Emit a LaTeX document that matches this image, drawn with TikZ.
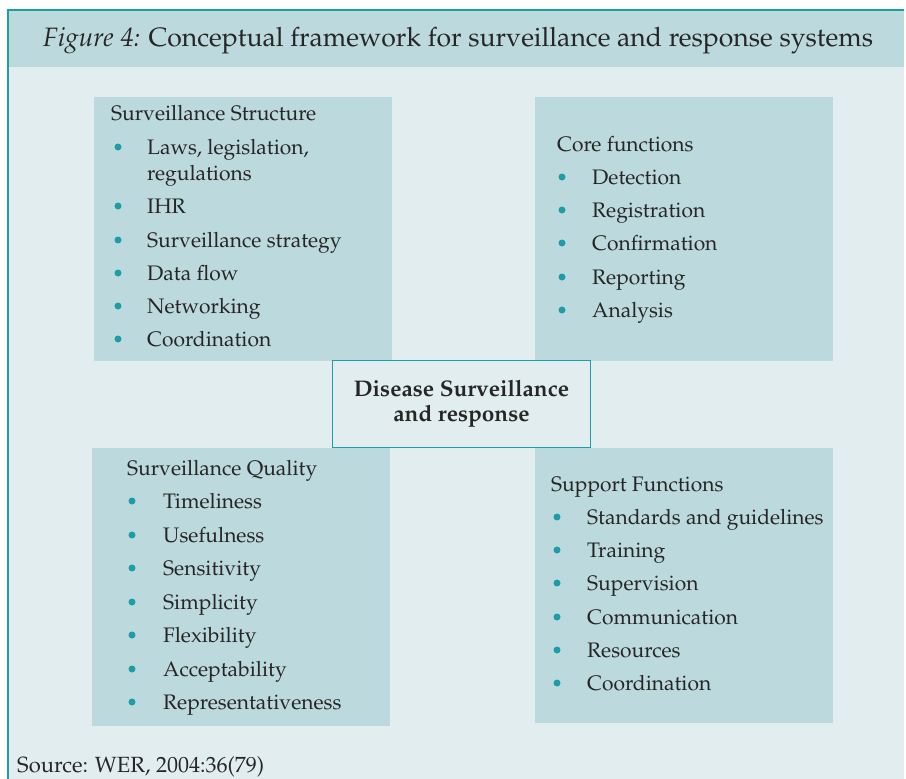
\documentclass[tikz,border=0pt]{standalone}
\IfFileExists{mathpazo.sty}{\usepackage[T1]{fontenc}\usepackage{mathpazo}}{\usepackage{fontspec}\setmainfont{Liberation Serif}}
\definecolor{bandcol}{RGB}{188,217,222}
\definecolor{bodybg}{RGB}{225,237,239}
\definecolor{boxcol}{RGB}{188,217,221}
\definecolor{tealc}{RGB}{28,158,166}
\definecolor{txtc}{RGB}{38,38,38}
\tikzset{
  quad/.style={fill=boxcol, draw=none},
  itemtxt/.style={anchor=base west, inner sep=0pt, text=txtc, font=\fontsize{21}{26}\selectfont, align=left},
  headtxt/.style={itemtxt},
  dotmark/.style={circle, fill=tealc, inner sep=0pt, minimum size=7pt},
  centerbox/.style={draw=tealc, line width=1.5pt, fill=bodybg, text=txtc, font=\fontsize{22.6}{25}\selectfont\bfseries, align=center, minimum width=258pt, minimum height=87pt, inner sep=0pt}
}
\begin{document}
\begin{tikzpicture}[x=1pt,y=-1pt]
\useasboundingbox (0,0) rectangle (906,779);
\fill[white] (0,0) rectangle (906,779);
\fill[bodybg] (8,10) rectangle (904,779);
\fill[bandcol] (8,10) rectangle (904,67);
\draw[tealc, line width=1.5pt] (8,779) -- (8,10) -- (904,10);
\node[anchor=base west, inner sep=0pt, text=txtc, font=\fontsize{26.6}{30}\selectfont] (title) at (43,46) {\textit{Figure 4:} Conceptual framework for surveillance and response systems};

% quadrant boxes
\fill[quad] (94,97) rectangle (392,361);
\fill[quad] (535,97) rectangle (833,361);
\fill[quad] (92,448) rectangle (390,726);
\fill[quad] (535,448) rectangle (833,723);

% top-left
\node[headtxt] (tlh) at (111,120) {Surveillance Structure};
\node[itemtxt] (tl1) at (147,180) {Laws, legislation,\\regulations};
\node[dotmark] (tld1) at (118,147) {};
\foreach \t/\y [count=\i from 2] in {IHR/206, Surveillance strategy/240, Data flow/273, Networking/306, Coordination/339}{
  \node[itemtxt] (tl\i) at (147,\y+7) {\t};
  \node[dotmark] (tld\i) at (118,\y) {};
}

% top-right
\node[headtxt] (trh) at (557,151) {Core functions};
\foreach \t/\y [count=\i] in {Detection/177, Registration/210, Confirmation/243, Reporting/277, Analysis/310}{
  \node[itemtxt] (tr\i) at (592,\y+7) {\t};
  \node[dotmark] (trd\i) at (562,\y) {};
}

% bottom-left
\node[headtxt] (blh) at (127,475) {Surveillance Quality};
\foreach \t/\y [count=\i] in {Timeliness/501, Usefulness/535, Sensitivity/568, Simplicity/602, Flexibility/635, Acceptability/669, Representativeness/702}{
  \node[itemtxt] (bl\i) at (163,\y+7) {\t};
  \node[dotmark] (bld\i) at (132,\y) {};
}

% bottom-right
\node[headtxt] (brh) at (551,491) {Support Functions};
\foreach \t/\y [count=\i] in {Standards and guidelines/517, Training/550, Supervision/583, Communication/617, Resources/650, Coordination/683}{
  \node[itemtxt] (br\i) at (587,\y+7) {\t};
  \node[dotmark] (brd\i) at (557,\y) {};
}

% center
\node[centerbox] (center) at (461.5,404) {Disease Surveillance\\and response};

% source
\node[anchor=base west, inner sep=0pt, text=txtc, font=\fontsize{22}{24}\selectfont] (src) at (17,772) {Source: WER, 2004:36(79)};
\end{tikzpicture}
\end{document}
